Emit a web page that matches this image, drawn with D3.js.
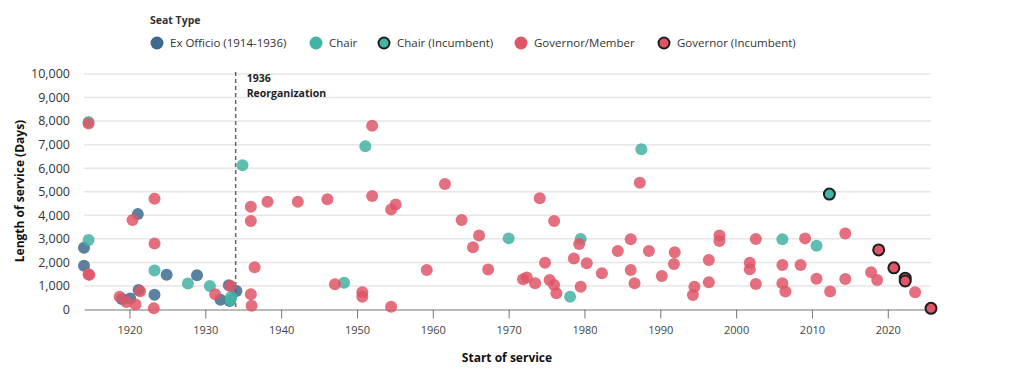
<!DOCTYPE html>
<html>
<head>
  <meta charset="utf-8">
  <title>Length of service</title>
<style>
body { margin: 0; background: #fff; }
text { font-family: "Open Sans", sans-serif; }
.grid line { stroke: #e6e6e6; stroke-width: 1.5px; }
.xaxis path, .xaxis line { stroke: #777; }
.xaxis text { font-size: 11px; fill: #444; }
.ylab { font-size: 12.5px; fill: #333; text-anchor: end; }
.title { font-size: 12px; font-weight: bold; fill: #111; text-anchor: middle; }
.legend text { font-size: 11.5px; fill: #333; }
</style>
</head>
<body>
<svg id="chart" width="1024" height="374"></svg>
<script src="https://d3js.org/d3.v7.min.js"></script>
<script>

// [start year, days]
var exOfficio = [
  [1914.0, 2620], [1914.0, 1860], [1919.0, 450], [1920.1, 470], [1921.1, 4050],
  [1921.2, 830], [1923.3, 630], [1924.9, 1480], [1928.9, 1450], [1932.0, 410],
  [1933.1, 1035], [1933.2, 360], [1934.1, 790]
];
var chair = [
  [1914.6, 7960], [1914.6, 2950], [1923.3, 1660], [1927.7, 1100], [1930.6, 1000],
  [1933.4, 530], [1933.3, 390], [1934.9, 6130], [1948.3, 1140], [1951.1, 6930],
  [1970.0, 3020], [1978.1, 540], [1979.5, 2990], [1987.5, 6800], [2006.1, 2980],
  [2010.6, 2710]
];
var chairIncumbent = [
  [2012.3, 4900]
];
var governor = [
  [1914.6, 7900], [1914.6, 1500], [1914.7, 1470], [1918.7, 545], [1919.6, 320],
  [1920.4, 3800], [1920.8, 210], [1921.4, 770], [1923.3, 4700], [1923.3, 2800],
  [1923.2, 55], [1931.3, 645], [1933.3, 1000], [1936.0, 4360], [1936.0, 3760],
  [1936.5, 1790], [1936.0, 645], [1936.1, 160], [1938.2, 4580], [1942.2, 4580],
  [1946.1, 4680], [1947.1, 1070], [1950.7, 730], [1950.7, 545], [1952.0, 7800],
  [1952.0, 4820], [1954.5, 4250], [1955.1, 4460], [1954.5, 120], [1959.2, 1680],
  [1961.6, 5330], [1963.8, 3800], [1965.3, 2640], [1966.1, 3140], [1967.3, 1700],
  [1971.9, 1280], [1972.4, 1360], [1973.5, 1110], [1974.1, 4720], [1974.8, 1990],
  [1975.4, 1250], [1976.0, 3760], [1976.0, 1040], [1976.3, 690], [1978.6, 2170],
  [1979.3, 2780], [1979.5, 970], [1980.3, 1960], [1982.3, 1540], [1984.4, 2480],
  [1986.1, 2980], [1986.1, 1680], [1986.6, 1110], [1987.3, 5380], [1988.5, 2480],
  [1990.2, 1420], [1991.8, 1930], [1991.9, 2430], [1994.5, 970], [1994.3, 620],
  [1996.4, 2100], [1996.4, 1160], [1997.8, 3140], [1997.8, 2910], [2001.8, 1990],
  [2001.8, 1710], [2002.6, 2990], [2002.6, 1080], [2006.1, 1890], [2006.1, 1110],
  [2006.5, 760], [2008.5, 1890], [2009.1, 3020], [2010.6, 1310], [2012.4, 760],
  [2014.4, 3230], [2014.4, 1300], [2017.8, 1580], [2018.6, 1250], [2023.6, 730]
];
var governorIncumbent = [
  [2018.8, 2530], [2020.8, 1770], [2022.3, 1330], [2022.3, 1210], [2025.7, 50]
];

var yTicks = [0, 1000, 2000, 3000, 4000, 5000, 6000, 7000, 8000, 9000, 10000];
var xTicks = [1920, 1930, 1940, 1950, 1960, 1970, 1980, 1990, 2000, 2010, 2020];
var reorgYear = 1934;

var legendItems = [
  {label: "Ex Officio (1914-1936)", color: "#3e6a8f", stroke: false},
  {label: "Chair", color: "#43b3a3", stroke: false},
  {label: "Chair (Incumbent)", color: "#43b3a3", stroke: true},
  {label: "Governor/Member", color: "#df5667", stroke: false},
  {label: "Governor (Incumbent)", color: "#df5667", stroke: true}
];

var svg = d3.select("#chart");

var x = d3.scaleLinear().domain([1914, 2025.7]).range([84, 931]);
var y = d3.scaleLinear().domain([0, 10000]).range([309.5, 74]);

// gridlines
svg.append("g").attr("class", "grid")
  .selectAll("line")
  .data(yTicks.slice(1))
  .enter().append("line")
    .attr("x1", x.range()[0]).attr("x2", x.range()[1])
    .attr("y1", function (d) { return y(d); })
    .attr("y2", function (d) { return y(d); });

svg.append("g").selectAll("text")
  .data(yTicks)
  .enter().append("text")
    .attr("class", "ylab")
    .attr("x", 70)
    .attr("y", function (d) { return y(d); })
    .attr("dy", "0.35em")
    .text(d3.format(","));

var xAxis = svg.append("g").attr("class", "xaxis")
  .attr("transform", "translate(0," + y(0) + ")")
  .call(d3.axisBottom(x).tickValues(xTicks).tickFormat(d3.format("d")).tickSizeInner(9).tickSizeOuter(0).tickPadding(8));
xAxis.select(".domain").attr("stroke-width", 1.2);

// reorganization marker
svg.append("line")
  .attr("x1", x(reorgYear)).attr("x2", x(reorgYear))
  .attr("y1", 72).attr("y2", y(0))
  .attr("stroke", "#666").attr("stroke-width", 1.5)
  .attr("stroke-dasharray", "4,3");
var note = svg.append("text")
  .attr("x", x(reorgYear) + 11).attr("y", 82)
  .style("font-size", "10.5px").style("font-weight", "bold").style("fill", "#222");
note.append("tspan").text("1936");
note.append("tspan").attr("x", x(reorgYear) + 11).attr("dy", 15).text("Reorganization");

// points
function drawSeries(data, color, incumbent) {
  svg.append("g").selectAll("circle")
    .data(data)
    .enter().append("circle")
      .attr("cx", function (d) { return x(d[0]); })
      .attr("cy", function (d) { return y(d[1]); })
      .attr("r", incumbent ? 5.5 : 6)
      .attr("fill", color)
      .attr("fill-opacity", incumbent ? 1 : 0.85)
      .attr("stroke", incumbent ? "#1e1e1e" : "none")
      .attr("stroke-width", incumbent ? 2 : 0);
}
drawSeries(exOfficio, legendItems[0].color, false);
drawSeries(chair, legendItems[1].color, false);
drawSeries(governor, legendItems[3].color, false);
drawSeries(chairIncumbent, legendItems[2].color, true);
drawSeries(governorIncumbent, legendItems[4].color, true);

// axis titles
svg.append("text").attr("class", "title")
  .attr("transform", "translate(24," + 191 + ") rotate(-90)")
  .text("Length of service (Days)");
svg.append("text").attr("class", "title")
  .attr("x", 507).attr("y", 362)
  .text("Start of service");

// legend
svg.append("text")
  .attr("x", 150).attr("y", 24)
  .style("font-size", "10.5px").style("font-weight", "bold").style("fill", "#333")
  .text("Seat Type");
var legendX = [157, 316, 384, 521, 664];
var lg = svg.append("g").attr("class", "legend")
  .selectAll("g")
  .data(legendItems)
  .enter().append("g")
    .attr("transform", function (d, i) { return "translate(" + legendX[i] + ",43)"; });
lg.append("circle")
  .attr("r", function (d) { return d.stroke ? 5.5 : 6.5; })
  .attr("fill", function (d) { return d.color; })
  .attr("stroke", function (d) { return d.stroke ? "#1e1e1e" : "none"; })
  .attr("stroke-width", 2);
lg.append("text")
  .attr("x", 13).attr("dy", "0.35em")
  .text(function (d) { return d.label; });

</script>
</body>
</html>
